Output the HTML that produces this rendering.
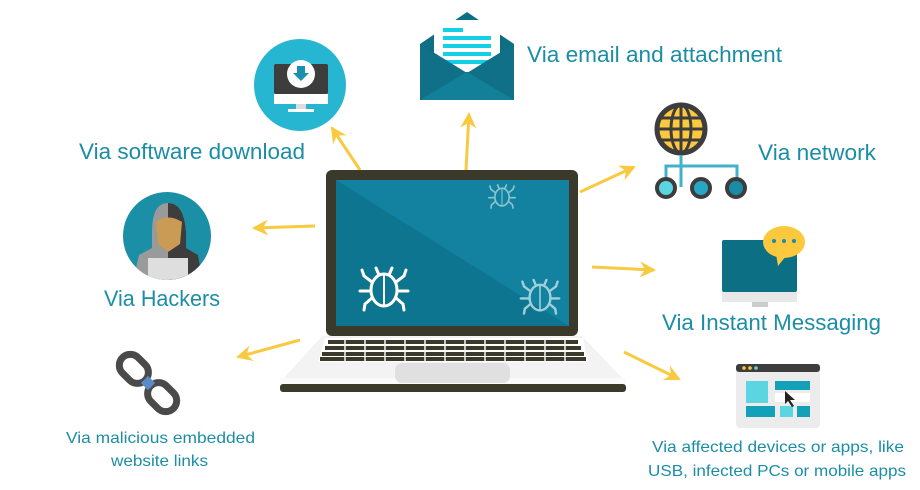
<!DOCTYPE html>
<html><head><meta charset="utf-8"><style>
html,body{margin:0;padding:0;background:#fff;width:920px;height:490px;overflow:hidden}
text{font-family:"Liberation Sans",sans-serif;fill:#1b8ea6}
</style></head><body>
<svg width="920" height="490" viewBox="0 0 920 490" xmlns="http://www.w3.org/2000/svg">
<defs>
<marker id="ah" markerWidth="18" markerHeight="18" refX="14" refY="9" orient="auto" markerUnits="userSpaceOnUse">
<path d="M0,1 L16,9 L0,17 L5,9 Z" fill="#f9c940"/>
</marker>
<g id="bug" fill="none" stroke-linecap="round">
<ellipse cx="0" cy="2" rx="13" ry="16" stroke-width="3"/>
<line x1="0" y1="-13" x2="0" y2="18" stroke-width="2"/>
<path d="M-12,-6 L-20,-12 L-22,-18 M12,-6 L20,-12 L22,-18 M-13,3 L-24,3 M13,3 L24,3 M-12,10 L-19,16 L-20,22 M12,10 L19,16 L20,22 M-5,-13 L-8,-20 M5,-13 L8,-20" stroke-width="3"/>
</g>
</defs>

<!-- arrows -->
<g stroke="#f9c940" stroke-width="3" marker-end="url(#ah)" fill="none">
<line x1="360" y1="170" x2="332" y2="128"/>
<line x1="466" y1="170" x2="469" y2="114"/>
<line x1="580" y1="192" x2="634" y2="167"/>
<line x1="592" y1="267" x2="654" y2="270"/>
<line x1="624" y1="352" x2="679" y2="379"/>
<line x1="315" y1="226" x2="254" y2="228"/>
<line x1="300" y1="340" x2="238" y2="357"/>
</g>

<!-- laptop -->
<path d="M282,380 L322,336 L582,336 L624,380 Z" fill="#f3f3f3"/>
<rect x="280" y="378" width="346" height="6" fill="#fafafa"/>
<rect x="280" y="384" width="346" height="8" rx="3" fill="#3b3a2a"/>
<path d="M325,338 L583,338 L588,362 L318,362 Z" fill="#fff"/>
<g fill="#3b3a2a">
<rect x="328" y="340" width="250" height="4"/>
<rect x="325" y="346" width="256" height="4"/>
<rect x="322" y="352" width="262" height="4"/>
<rect x="320" y="357" width="266" height="4"/>
</g>
<g stroke="#f3f3f3" stroke-width="1.5">
<path d="M345,340V361M365,340V361M385,340V361M405,340V361M425,340V361M445,340V361M465,340V361M485,340V361M505,340V361M525,340V361M545,340V361M565,340V361"/>
</g>
<rect x="395" y="363" width="115" height="20" rx="7" fill="#e0e0e0"/>
<rect x="326" y="170" width="252" height="166" rx="6" fill="#3b3a2a"/>
<rect x="336" y="180" width="233" height="146" fill="#0e7590"/>
<path d="M336,180 L569,180 L569,326 Z" fill="#1282a0"/>
<use href="#bug" transform="translate(384,288) scale(1)" stroke="#fff"/>
<use href="#bug" transform="translate(540,296) scale(0.8)" stroke="#9fd0da"/>
<use href="#bug" transform="translate(502,196) scale(0.55)" stroke="#8cc3cf"/>

<!-- download icon -->
<circle cx="300" cy="85" r="46" fill="#27b6d2"/>
<rect x="274" y="64" width="54" height="30" rx="2" fill="#3d3d3d"/>
<rect x="274" y="94" width="54" height="10" fill="#fff"/>
<rect x="296" y="104" width="10" height="5" fill="#ddd"/>
<rect x="288" y="109" width="26" height="3" fill="#fff"/>
<circle cx="301" cy="74" r="14" fill="#fff"/>
<path d="M297,66 H305 V73 H309 L301,81 L293,73 H297 Z" fill="#1a8fb0"/>

<!-- envelope -->
<path d="M420,44 L467,12 L514,44 V100 H420 Z" fill="#0d6f84"/>
<rect x="434" y="20" width="66" height="52" fill="#fff"/>
<g fill="#14d0e6"><rect x="443" y="28" width="20" height="4"/><rect x="443" y="36" width="48" height="4"/><rect x="443" y="44" width="48" height="4"/><rect x="443" y="52" width="48" height="4"/><rect x="443" y="60" width="48" height="4"/></g>
<path d="M420,44 L467,73 L514,44 V100 H420 Z" fill="#0f7087"/>
<path d="M420,100 L467,72 L514,100 Z" fill="#13809a"/>

<!-- network -->
<circle cx="681" cy="129" r="24" fill="#fcc93e" stroke="#3d3d3d" stroke-width="5"/>
<g stroke="#3d3d3d" stroke-width="3" fill="none"><ellipse cx="681" cy="129" rx="10" ry="24"/><line x1="657" y1="129" x2="705" y2="129"/><line x1="681" y1="105" x2="681" y2="153"/><line x1="661" y1="118" x2="701" y2="118"/><line x1="661" y1="140" x2="701" y2="140"/></g>
<path d="M681,155 V187 M666,187 V166 H737 V187" stroke="#43b1cb" stroke-width="3" fill="none"/>
<circle cx="666" cy="188" r="9" fill="#5bd5e0" stroke="#3d3d3d" stroke-width="4"/>
<circle cx="701" cy="188" r="9" fill="#27a7c4" stroke="#3d3d3d" stroke-width="4"/>
<circle cx="736" cy="188" r="9" fill="#1a8ba6" stroke="#3d3d3d" stroke-width="4"/>

<!-- IM -->
<rect x="722" y="240" width="75" height="52" rx="2" fill="#0d6f84"/>
<rect x="722" y="292" width="75" height="10" fill="#e8e8e8"/>
<rect x="752" y="302" width="16" height="5" fill="#ccc"/>
<ellipse cx="784" cy="242" rx="21" ry="16" fill="#fcc93e"/>
<path d="M776,254 L778,266 L786,256 Z" fill="#fcc93e"/>
<g fill="#1a8ba6"><circle cx="774" cy="241" r="2"/><circle cx="784" cy="241" r="2"/><circle cx="794" cy="241" r="2"/></g>

<!-- devices window -->
<rect x="736" y="364" width="84" height="64" rx="4" fill="#ececec"/>
<rect x="736" y="364" width="84" height="8" rx="3" fill="#3d3d3d"/>
<circle cx="744" cy="368" r="1.8" fill="#fcc93e"/><circle cx="750" cy="368" r="1.8" fill="#fcc93e"/><circle cx="756" cy="368" r="1.8" fill="#5bd5e0"/>
<rect x="746" y="381" width="22" height="22" fill="#5bd5e0"/>
<rect x="775" y="381" width="35" height="9" fill="#12a1b8"/>
<rect x="775" y="393" width="35" height="9" fill="#fff"/>
<rect x="746" y="406" width="29" height="11" fill="#12a1b8"/>
<rect x="780" y="406" width="13" height="11" fill="#5bd5e0"/>
<rect x="797" y="406" width="13" height="11" fill="#12a1b8"/>
<path d="M785,391 L785,404 L788,401 L792,407 L794,406 L790,400 L795,400 Z" fill="#222"/>

<!-- hacker -->
<circle cx="167" cy="236" r="44" fill="#1a8fa6"/>
<clipPath id="hc"><circle cx="167" cy="236" r="44"/></clipPath>
<g clip-path="url(#hc)">
<path d="M131,290 L139,255 L152,248 L152,232 Q152,203 168,203 Q184,203 186,232 L186,248 L198,255 L204,290 Z" fill="#9a9a9a"/>
<path d="M168,203 Q184,203 186,232 L186,248 L198,255 L204,290 L168,290 Z" fill="#3d3d3d"/>
<path d="M156,222 Q168,213 182,222 L180,244 L168,252 L158,244 Z" fill="#c99b55"/>
<rect x="148" y="258" width="40" height="24" fill="#dedede"/>
</g>

<!-- chain -->
<g transform="translate(148,383) rotate(-45)" fill="none" stroke="#4a4a4a" stroke-width="7">
<rect x="-11" y="-36" width="22" height="32" rx="11"/>
<rect x="-11" y="4" width="22" height="32" rx="11"/>
</g>
<rect x="143" y="378" width="10" height="10" fill="#5b8ac9" transform="rotate(45 148 383)"/>

<!-- labels -->
<text x="79" y="159" font-size="22" textLength="226" lengthAdjust="spacingAndGlyphs">Via software download</text>
<text x="527" y="62" font-size="22" textLength="255" lengthAdjust="spacingAndGlyphs">Via email and attachment</text>
<text x="758" y="160" font-size="22" textLength="118" lengthAdjust="spacingAndGlyphs">Via network</text>
<text x="104" y="306" font-size="22" textLength="116" lengthAdjust="spacingAndGlyphs">Via Hackers</text>
<text x="662" y="330" font-size="22" textLength="219" lengthAdjust="spacingAndGlyphs">Via Instant Messaging</text>
<text x="66" y="443" font-size="16" textLength="189" lengthAdjust="spacingAndGlyphs">Via malicious embedded</text>
<text x="111" y="466" font-size="16" textLength="97" lengthAdjust="spacingAndGlyphs">website links</text>
<text x="652" y="452" font-size="16" textLength="252" lengthAdjust="spacingAndGlyphs">Via affected devices or apps, like</text>
<text x="648" y="476" font-size="16" textLength="258" lengthAdjust="spacingAndGlyphs">USB, infected PCs or mobile apps</text>
</svg>
</body></html>
